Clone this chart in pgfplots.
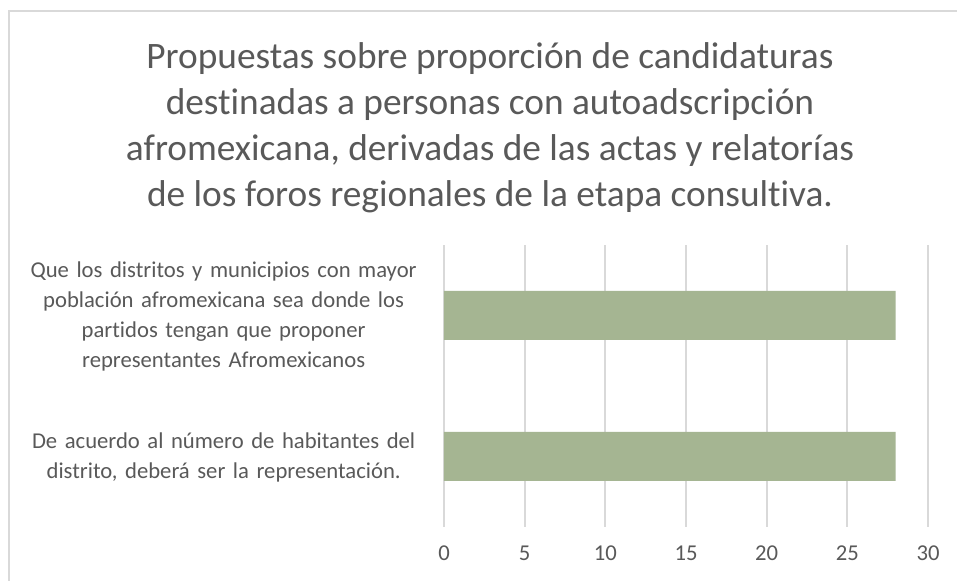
\documentclass[border=0pt]{standalone}
\usepackage{pgfplots}
\pgfplotsset{compat=1.18}
\usepackage{fontspec}
\setmainfont{Carlito}[Ligatures=NoCommon]
\definecolor{txt}{HTML}{595959}
\definecolor{gridc}{HTML}{D9D9D9}
\definecolor{barc}{HTML}{A5B592}
\begin{document}
\begin{tikzpicture}
\useasboundingbox (0pt,0pt) rectangle (717.75pt,435.75pt);
\fill[white] (0pt,0pt) rectangle (717.75pt,435.75pt);
\draw[color=gridc, line width=1.5pt] (6.75pt,-15pt) -- (6.75pt,427.5pt) -- (735pt,427.5pt);
\node[text=txt, align=center, font=\fontsize{28}{34.5}\selectfont] at (367.5pt,339.75pt)
 {Propuestas sobre proporción de candidaturas\\destinadas a personas con autoadscripción\\afromexicana, derivadas de las actas y relatorías\\de los foros regionales de la etapa consultiva.};
\begin{axis}[
  at={(333pt,40.5pt)}, anchor=south west,
  scale only axis, width=363pt, height=211.5pt,
  xbar, bar width=36.75pt,
  xmin=0, xmax=30, ymin=-0.5, ymax=1.5,
  xtick={0,5,10,15,20,25,30}, ytick={0,1},
  yticklabels={{De acuerdo al número de habitantes del\\distrito, deberá ser la representación.},
               {Que los distritos y municipios con mayor\\población afromexicana sea donde los\\partidos tengan que proponer\\representantes Afromexicanos}},
  axis line style={draw=none},
  major tick style={draw=none},
  xmajorgrids, grid style={gridc, line width=1.3pt},
  /pgf/number format/assume math mode=true,
  ticklabel style={text=txt, font=\fontsize{17}{22.5}\selectfont},
  xticklabel style={anchor=center, yshift=-19.5pt},
  yticklabel style={anchor=center, xshift=-161pt, yshift=-1pt, text width=300pt, align=center},
]
\addplot[fill=barc, draw=none] coordinates {(28,0) (28,1)};
\end{axis}
\end{tikzpicture}
\end{document}
